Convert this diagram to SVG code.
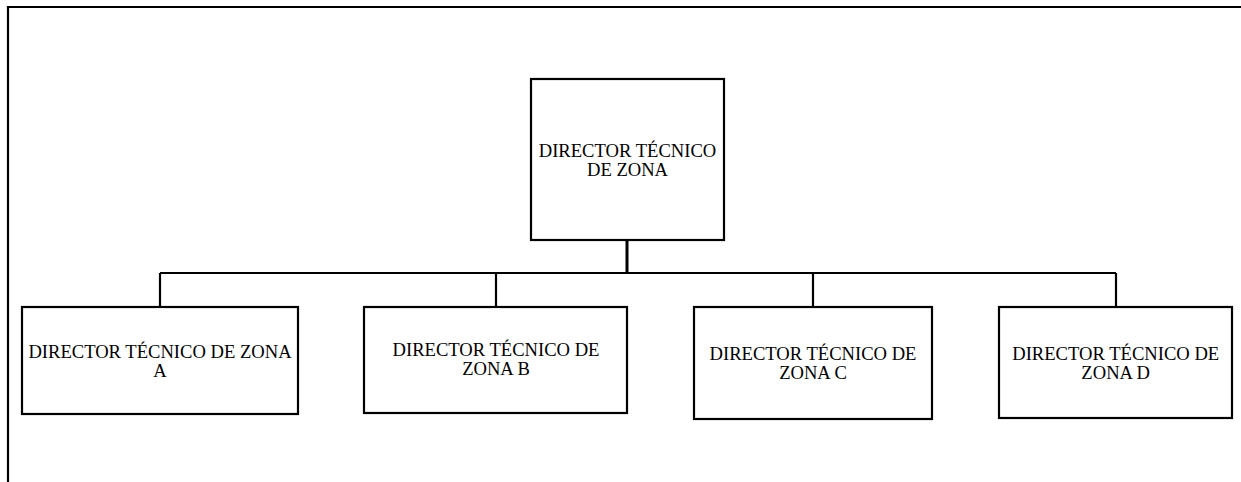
<svg xmlns="http://www.w3.org/2000/svg" width="1241" height="482" viewBox="0 0 1241 482">
  <style>
    .box { fill: #ffffff; stroke: #000000; stroke-width: 2.2; }
    .frame { fill: none; stroke: #000000; stroke-width: 2.2; }
    .link { fill: none; stroke: #000000; stroke-width: 2.2; }
    .trunk { fill: none; stroke: #000000; stroke-width: 3; }
    .label { font-family: "Liberation Serif", "Times New Roman", serif; font-size: 18.6px; fill: #000000; text-anchor: middle; }
  </style>
  <rect width="1241" height="482" fill="#ffffff"/>

  <!-- outer page frame: top and left edges only -->
  <path class="frame" d="M8 482 V7 H1241"/>

  <!-- connectors -->
  <g id="connectors">
    <path class="trunk" d="M627 240 V273"/>
    <path class="link" d="M160 273 H1116"/>
    <path class="link" d="M160 273 V307"/>
    <path class="link" d="M496 273 V307"/>
    <path class="link" d="M813 273 V307"/>
    <path class="link" d="M1116 273 V307"/>
  </g>

  <g id="director">
    <rect class="box" x="531" y="79" width="193" height="161"/>
    <text class="label" x="627.5" y="156.5">DIRECTOR TÉCNICO</text>
    <text class="label" x="627.5" y="176">DE ZONA</text>
  </g>

  <g id="zona-a">
    <rect class="box" x="22" y="307" width="276" height="107"/>
    <text class="label" x="160" y="358.3">DIRECTOR TÉCNICO DE ZONA</text>
    <text class="label" x="160" y="377">A</text>
  </g>

  <g id="zona-b">
    <rect class="box" x="364" y="307" width="263" height="106"/>
    <text class="label" x="496" y="355.7">DIRECTOR TÉCNICO DE</text>
    <text class="label" x="496" y="375">ZONA B</text>
  </g>

  <g id="zona-c">
    <rect class="box" x="694" y="307" width="238" height="112"/>
    <text class="label" x="813" y="360">DIRECTOR TÉCNICO DE</text>
    <text class="label" x="813" y="379.3">ZONA C</text>
  </g>

  <g id="zona-d">
    <rect class="box" x="999" y="307" width="233" height="111"/>
    <text class="label" x="1115.7" y="360">DIRECTOR TÉCNICO DE</text>
    <text class="label" x="1115.7" y="379.3">ZONA D</text>
  </g>
</svg>
